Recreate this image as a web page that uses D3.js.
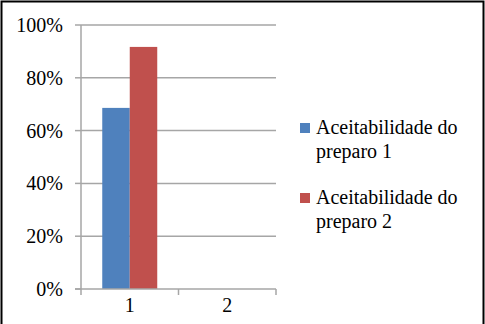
<!DOCTYPE html>
<html><head><meta charset="utf-8"><script src="https://cdn.jsdelivr.net/npm/d3@7"></script></head>
<body style="margin:0">
<svg id="c" width="485" height="324"></svg>
<script>
const categories = ["1", "2"];
const seriesNames = ["Aceitabilidade do preparo 1", "Aceitabilidade do preparo 2"];
const series1 = [0.686, null];
const series2 = [0.917, null];
const yTicks = [0, 0.2, 0.4, 0.6, 0.8, 1.0];
const colors = ["#4F81BD", "#C0504D"];

const svg = d3.select("#c");
const W = 485, H = 324;
const fam = "Liberation Serif";
function styleText(sel) {
  sel.style("font-family", () => `"${fam}"`).style("font-size", "20px");
}

svg.append("path")
  .attr("d", `M1.5,${H + 5} L1.5,1.5 L483.5,1.5 L483.5,${H + 5}`)
  .attr("fill", "none").attr("stroke", "#000").attr("stroke-width", 2);

const x0 = 81, x1 = 276, yBottom = 289, yTop = 25;
const x = d3.scaleBand().domain(categories).range([x0, x1]).paddingInner(0).paddingOuter(0);
const y = d3.scaleLinear().domain([0, 1]).range([yBottom, yTop]);
const xs = d3.scaleBand().domain(seriesNames).range([0, x.bandwidth()]).paddingInner(0).paddingOuter(0.773);
const grid = "#a6a6a6";

svg.selectAll("line.grid").data(yTicks.filter(d => d > 0)).join("line").attr("class", "grid")
  .attr("x1", x0).attr("x2", x1)
  .attr("y1", d => y(d)).attr("y2", d => y(d))
  .attr("stroke", grid).attr("stroke-width", 1.5);

// y axis (lines drawn manually, labels as plain svg text)
svg.append("line").attr("x1", x0).attr("x2", x0).attr("y1", yTop).attr("y2", yBottom)
  .attr("stroke", grid).attr("stroke-width", 1.5);
svg.selectAll("line.ytick").data(yTicks).join("line").attr("class", "ytick")
  .attr("x1", x0 - 6).attr("x2", x0).attr("y1", d => y(d)).attr("y2", d => y(d))
  .attr("stroke", grid).attr("stroke-width", 1.5);
svg.selectAll("text.ylab").data(yTicks).join("text").attr("class", "ylab")
  .attr("x", x0 - 18).attr("y", d => y(d) + 7)
  .attr("text-anchor", "end")
  .call(styleText)
  .text(d => Math.round(d * 100) + "%");

// bars
categories.forEach((c, i) => {
  [series1[i], series2[i]].forEach((v, j) => {
    if (v == null) return;
    svg.append("rect")
      .attr("x", x(c) + xs(seriesNames[j]))
      .attr("width", xs.bandwidth())
      .attr("y", y(v))
      .attr("height", y(0) - y(v))
      .attr("fill", colors[j]);
  });
});

// x axis
const edges = [x0, x0 + x.step(), x1];
svg.append("line").attr("x1", x0 - 6).attr("x2", x1).attr("y1", yBottom).attr("y2", yBottom)
  .attr("stroke", grid).attr("stroke-width", 1.5);
svg.selectAll("line.xtick").data(edges).join("line").attr("class", "xtick")
  .attr("x1", d => d).attr("x2", d => d).attr("y1", yBottom).attr("y2", yBottom + 6)
  .attr("stroke", grid).attr("stroke-width", 1.5);
svg.selectAll("text.xlab").data(categories).join("text").attr("class", "xlab")
  .attr("x", d => x(d) + x.bandwidth() / 2)
  .attr("y", yBottom + 23)
  .attr("text-anchor", "middle")
  .call(styleText)
  .text(d => d);

// legend
const legY = [134, 204];
const legLines = seriesNames.map(n => {
  const k = n.lastIndexOf(" preparo");
  return [n.slice(0, k), n.slice(k + 1)];
});
svg.selectAll("rect.leg").data(seriesNames).join("rect").attr("class", "leg")
  .attr("x", 300).attr("y", (d, i) => legY[i] - 11).attr("width", 10).attr("height", 10)
  .attr("fill", (d, i) => colors[i]);
const legTexts = [];
legLines.forEach((lines, i) => lines.forEach((l, k) => legTexts.push({ t: l, y: legY[i] + k * 24 })));
svg.selectAll("text.legt").data(legTexts).join("text").attr("class", "legt")
  .attr("x", 316).attr("y", d => d.y)
  .call(styleText)
  .text(d => d.t);
</script>
</body></html>
